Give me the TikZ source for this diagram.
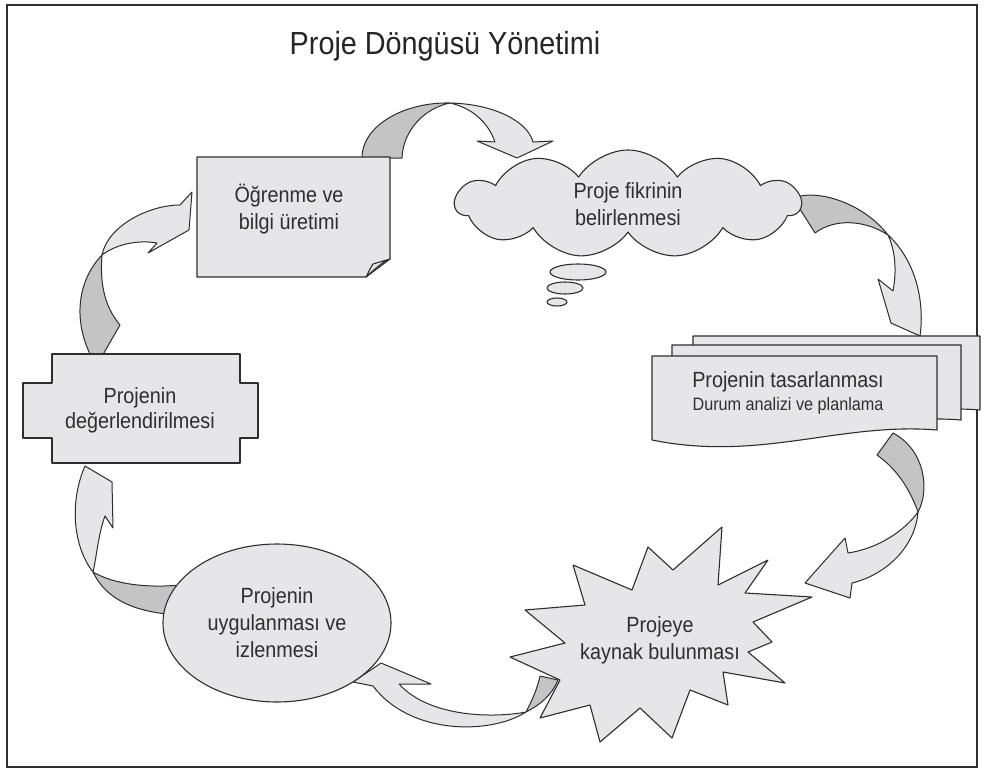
\documentclass[tikz,border=0pt]{standalone}
\usepackage{fontspec}
\setmainfont{Liberation Sans}[FakeStretch=0.9]
\usetikzlibrary{shapes.geometric,shapes.symbols}
\definecolor{boxgray}{HTML}{E6E6E8}
\definecolor{bandgray}{HTML}{C4C4C4}
\definecolor{inkgray}{HTML}{2E2E2E}
\tikzset{
  boxstyle/.style={draw=inkgray,fill=boxgray,line width=1.1pt,line join=round},
  darkband/.style={draw=inkgray,fill=bandgray,line width=1pt,line join=round},
  lightband/.style={draw=inkgray,fill=boxgray,line width=1pt,line join=round},
  lbl/.style={text=inkgray,font=\fontsize{22}{27}\selectfont,align=center,inner sep=0pt},
  titletext/.style={text=black!85,font=\fontsize{32}{38}\selectfont}
}
\newcommand{\pagedoc}[4]{\draw[boxstyle] (#1,#2) -- (#3,#2) -- (#3,#4) .. controls +(-97,-8) and +(108,22) .. (#1,#4+10) -- cycle;}

\begin{document}
\begin{tikzpicture}[x=1pt,y=-1pt]
\useasboundingbox (0,0) rectangle (984,773);
\fill[white] (0,0) rectangle (984,773);
\draw[inkgray,line width=2pt] (7,5) rectangle (977,767);
\node[titletext] (title) at (445,46) {Proje Döngüsü Yönetimi};

\filldraw[darkband] (362,158) .. controls (362,125) and (405,102) .. (450,103) .. controls (425,108) and (403,130) .. (402,158) -- cycle;
\filldraw[lightband] (450,103) .. controls (495,104) and (528,122) .. (533,142) -- (553,141) -- (517,158) -- (477,141) -- (495,142) .. controls (488,122) and (472,108) .. (450,103) -- cycle;

\filldraw[darkband] (793,198) .. controls (820,188) and (865,205) .. (888,235) .. controls (865,220) and (835,218) .. (815,233) -- cycle;
\filldraw[lightband] (888,235) .. controls (915,260) and (925,300) .. (920,336) -- (891,323) -- (878,279) -- (893,291) .. controls (897,270) and (895,250) .. (888,235) -- cycle;

\filldraw[darkband] (877,455) -- (893,433) .. controls (925,450) and (930,490) .. (918,512) .. controls (910,490) and (898,470) .. (877,455) -- cycle;
\filldraw[lightband] (918,512) .. controls (915,548) and (885,575) .. (852,583) -- (850,598) -- (805,583) -- (845,538) -- (848,553) .. controls (880,548) and (905,530) .. (918,512) -- cycle;

\filldraw[darkband] (540,676) -- (558,680) .. controls (552,695) and (540,705) .. (526,712) .. controls (532,700) and (537,690) .. (540,676) -- cycle;
\filldraw[lightband] (526,712) .. controls (490,735) and (410,735) .. (373,686) -- (353,682) -- (381,663) -- (431,684) -- (399,684) .. controls (430,718) and (495,718) .. (526,712) -- cycle;

\filldraw[darkband] (93,572) .. controls (115,585) and (150,588) .. (180,585) -- (178,615) .. controls (130,612) and (105,597) .. (93,572) -- cycle;
\filldraw[lightband] (93,572) .. controls (72,545) and (70,500) .. (85,466) -- (112,482) -- (113,528) -- (105,516) .. controls (98,535) and (97,555) .. (93,572) -- cycle;

\filldraw[darkband] (92,358) .. controls (72,320) and (78,280) .. (102,255) .. controls (100,280) and (103,305) .. (120,325) -- (101,358) -- cycle;
\filldraw[lightband] (102,255) .. controls (108,225) and (150,205) .. (180,205) -- (192,192) -- (189,230) -- (148,253) -- (157,243) .. controls (140,240) and (118,243) .. (102,255) -- cycle;

\draw[boxstyle] (197,157) -- (390,157) -- (390,259) -- (366,277) -- (197,277) -- cycle;
\draw[boxstyle] (366,277) .. controls (369,271) and (371,267) .. (373,264) -- (390,259) .. controls (382,262) and (374,270) .. (366,277) -- cycle;
\node[lbl] (learn) at (289,209) {Öğrenme ve\\bilgi üretimi};

\node[boxstyle,cloud,cloud puffs=11,cloud puff arc=115,cloud ignores aspect,minimum width=345pt,minimum height=108pt,lbl] (idea) at (628,204) {Proje fikrinin\\belirlenmesi};
\draw[boxstyle] (578,272) ellipse [x radius=28,y radius=8];
\draw[boxstyle] (565,288) ellipse [x radius=18,y radius=6];
\draw[boxstyle] (557,302) ellipse [x radius=10,y radius=4];

\pagedoc{693}{336}{980}{410}
\pagedoc{672}{345}{961}{420}
\pagedoc{652}{356}{937}{430}
\node[lbl,font=\fontsize{22}{23}\selectfont] (design) at (788,393) {Projenin tasarlanması\\{\fontsize{18}{22}\selectfont Durum analizi ve planlama}};

\draw[boxstyle] (722,527) -- (718,585) -- (768,560) -- (745,593) -- (812,597) -- (753,622) -- (772,642) -- (748,652) -- (785,683) -- (723,672) -- (728,705) -- (690,690) -- (672,738) -- (640,708) -- (600,742) -- (590,705) -- (540,718) -- (560,680) -- (510,657) -- (565,643) -- (525,610) -- (585,605) -- (573,565) -- (632,590) -- (648,547) -- (673,570) -- cycle;
\node[lbl] (fund) at (660,640) {Projeye\\kaynak bulunması};

\node[boxstyle,ellipse,minimum width=228pt,minimum height=158pt,lbl] (impl) at (277,623) {Projenin\\uygulanması ve\\izlenmesi};

\draw[boxstyle] (52,354) -- (240,354) -- (240,383) -- (258,383) -- (258,438) -- (240,438) -- (240,463) -- (52,463) -- (52,438) -- (23,438) -- (23,383) -- (52,383) -- cycle;
\node[lbl,font=\fontsize{22}{25}\selectfont] (eval) at (140,410) {Projenin\\değerlendirilmesi};
\end{tikzpicture}
\end{document}
